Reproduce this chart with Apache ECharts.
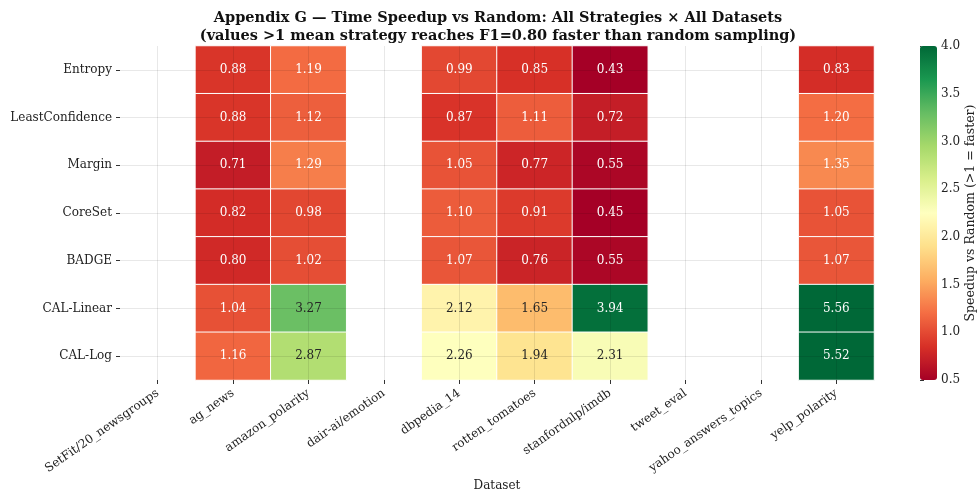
<!DOCTYPE html>
<html>
<head>
<meta charset="utf-8">
<script src="https://cdn.jsdelivr.net/npm/echarts@6/dist/echarts.min.js"></script>
<style>
  html, body { margin: 0; padding: 0; background: #fff; }
  #chart { width: 980px; height: 495px; }
</style>
</head>
<body>
<div id="chart"></div>
<script>
// datasets on x, strategies on y (null = no result)
const datasets = ['SetFit/20_newsgroups', 'ag_news', 'amazon_polarity', 'dair-ai/emotion', 'dbpedia_14',
  'rotten_tomatoes', 'stanfordnlp/imdb', 'tweet_eval', 'yahoo_answers_topics', 'yelp_polarity'];
const strategies = ['Entropy', 'LeastConfidence', 'Margin', 'CoreSet', 'BADGE', 'CAL-Linear', 'CAL-Log'];

const entropy         = [null, 0.88, 1.19, null, 0.99, 0.85, 0.43, null, null, 0.83];
const leastConfidence = [null, 0.88, 1.12, null, 0.87, 1.11, 0.72, null, null, 1.20];
const margin          = [null, 0.71, 1.29, null, 1.05, 0.77, 0.55, null, null, 1.35];
const coreSet         = [null, 0.82, 0.98, null, 1.10, 0.91, 0.45, null, null, 1.05];
const badge           = [null, 0.80, 1.02, null, 1.07, 0.76, 0.55, null, null, 1.07];
const calLinear       = [null, 1.04, 3.27, null, 2.12, 1.65, 3.94, null, null, 5.56];
const calLog          = [null, 1.16, 2.87, null, 2.26, 1.94, 2.31, null, null, 5.52];

const rows = [entropy, leastConfidence, margin, coreSet, badge, calLinear, calLog];
const colorbarTicks = [0.5, 1.0, 1.5, 2.0, 2.5, 3.0, 3.5, 4.0];
const vmin = 0.5, vmax = 4.0;

// RdYlGn
const rdylgn = ['#a50026', '#d73027', '#f46d43', '#fdae61', '#fee08b', '#ffffbf',
  '#d9ef8b', '#a6d96a', '#66bd63', '#1a9850', '#006837'];

const data = [];
rows.forEach((r, yi) => {
  r.forEach((v, xi) => {
    if (v !== null) data.push([xi, yi, v]);
  });
});

function hexRgb(h) {
  return [1, 3, 5].map(i => parseInt(h.substr(i, 2), 16) / 255);
}
// pick annotation colour like seaborn does (luminance of the cell colour)
function textColor(v) {
  let t = (Math.min(Math.max(v, vmin), vmax) - vmin) / (vmax - vmin) * (rdylgn.length - 1);
  const i = Math.min(Math.floor(t), rdylgn.length - 2);
  const f = t - i;
  const a = hexRgb(rdylgn[i]), b = hexRgb(rdylgn[i + 1]);
  const c = a.map((x, k) => x + (b[k] - x) * f).map(x => x <= 0.03928 ? x / 12.92 : Math.pow((x + 0.055) / 1.055, 2.4));
  const lum = 0.2126 * c[0] + 0.7152 * c[1] + 0.0722 * c[2];
  return lum > 0.408 ? '#262626' : '#ffffff';
}

const serif = 'DejaVu Serif';
const chart = echarts.init(document.getElementById('chart'));

const option = {
  backgroundColor: '#fff',
  animation: false,
  title: {
    text: 'Appendix G — Time Speedup vs Random: All Strategies × All Datasets\n(values >1 mean strategy reaches F1=0.80 faster than random sampling)',
    left: 493,
    top: 4,
    textAlign: 'center',
    textStyle: { fontFamily: serif, fontWeight: 'bold', fontSize: 14.5, lineHeight: 18, color: '#111' }
  },
  grid: [
    { left: 120, top: 46, width: 754, height: 334, outerBoundsMode: 'none' },
    { left: 920, top: 46, width: 17, height: 334, outerBoundsMode: 'none' }
  ],
  xAxis: [
    {
      type: 'category',
      gridIndex: 0,
      data: datasets,
      z: 3,
      name: 'Dataset',
      nameLocation: 'middle',
      nameGap: 100,
      nameMoveOverlap: false,
      nameTextStyle: { fontFamily: serif, fontSize: 12, color: '#222' },
      axisLine: { show: false },
      axisTick: { show: true, alignWithLabel: true, length: 4, lineStyle: { color: '#333' } },
      axisLabel: { rotate: 35, fontFamily: serif, fontSize: 12, color: '#222', margin: 12 },
      splitLine: { show: true, alignWithLabel: true, lineStyle: { color: 'rgba(0,0,0,0.09)', width: 1 } }
    },
    {
      type: 'value',
      gridIndex: 1,
      min: 0, max: 1,
      show: false
    }
  ],
  yAxis: [
    {
      type: 'category',
      gridIndex: 0,
      data: strategies,
      inverse: true,
      z: 3,
      axisLine: { show: false },
      axisTick: { show: true, alignWithLabel: true, length: 4, lineStyle: { color: '#333' } },
      axisLabel: { fontFamily: serif, fontSize: 12, color: '#222', margin: 8 },
      splitLine: { show: true, alignWithLabel: true, lineStyle: { color: 'rgba(0,0,0,0.09)', width: 1 } }
    },
    {
      type: 'value',
      gridIndex: 1,
      position: 'right',
      min: vmin, max: vmax, interval: 0.5,
      name: 'Speedup vs Random (>1 = faster)',
      nameLocation: 'middle',
      nameRotate: 90,
      nameGap: 27,
      nameMoveOverlap: false,
      nameTextStyle: { fontFamily: serif, fontSize: 12.5, color: '#222' },
      axisLine: { show: false },
      axisTick: { show: true, length: 4, lineStyle: { color: '#333' } },
      axisLabel: {
        fontFamily: serif, fontSize: 12, color: '#222', margin: 4,
        formatter: v => colorbarTicks.indexOf(v) >= 0 ? v.toFixed(1) : ''
      },
      splitLine: { show: false }
    }
  ],
  visualMap: {
    type: 'continuous',
    min: vmin,
    max: vmax,
    seriesIndex: 0,
    dimension: 2,
    calculable: false,
    hoverLink: false,
    left: 920,
    top: 46,
    padding: 0,
    itemWidth: 17,
    itemHeight: 334,
    showLabel: false,
    inRange: { color: rdylgn }
  },
  series: [
    {
      type: 'heatmap',
      xAxisIndex: 0,
      yAxisIndex: 0,
      data: data.map(d => ({ value: d, label: { color: textColor(d[2]) } })),
      itemStyle: { borderColor: '#fff', borderWidth: 1 },
      label: {
        show: true,
        fontFamily: serif,
        fontSize: 12,
        formatter: p => p.value[2].toFixed(2)
      }
    }
  ]
};

chart.setOption(option);
</script>
</body>
</html>
